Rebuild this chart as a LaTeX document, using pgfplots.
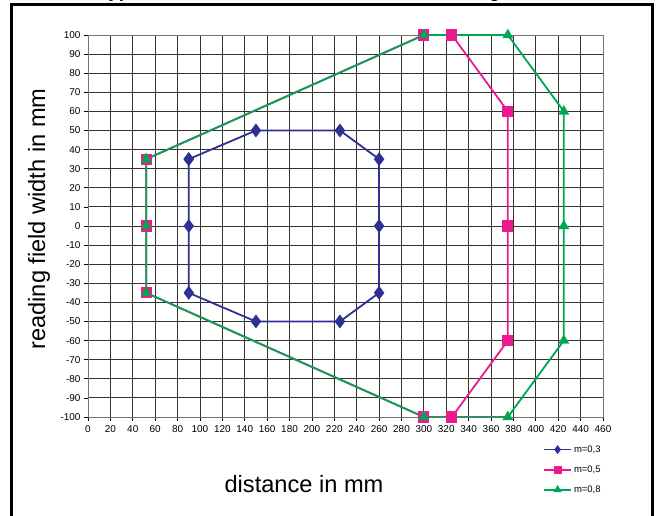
\documentclass[border=0pt]{standalone}
\usepackage{fontspec}
\setmainfont{Liberation Sans}
\usepackage{pgfplots}
\pgfplotsset{compat=1.18}
\definecolor{cblue}{RGB}{46,49,146}
\definecolor{cpink}{RGB}{236,26,140}
\definecolor{cgreen}{RGB}{0,166,81}
\begin{document}
\begin{tikzpicture}[x=1bp,y=1bp]
\useasboundingbox (0,0) rectangle (658,516);
\draw[line width=3bp] (11.5,-20) rectangle (652,511);
\node[anchor=base west, font=\bfseries\fontsize{19}{22}\selectfont, inner sep=0] at (98,518) {Typical field size vs. distance for the reading};
\begin{axis}[
  at={(88bp,99bp)}, anchor=south west, scale only axis,
  width=515bp, height=382bp,
  xmin=0, xmax=460, ymin=-100, ymax=100,
  xtick distance=20, ytick distance=10,
  xtick pos=bottom, ytick pos=left,
  grid=major, grid style={black!80, line width=0.8bp},
  axis line style={black!55, line width=0.9bp},
  tick align=outside, major tick length=4bp,
  tick style={black, line width=0.7bp},
  ticklabel style={font=\fontsize{10}{12}\selectfont},
  xticklabel style={yshift=-1bp},
  /pgf/number format/assume math mode=true,
  legend style={at={(0.8835,-0.069)}, anchor=north west, draw=none, fill=none,
    font=\fontsize{9.5}{11}\selectfont, row sep=8bp, inner sep=0pt, cells={anchor=west}},
  legend image code/.code={\draw[#1, line width=1.8bp, mark size=3bp, mark repeat=2, mark phase=2] plot coordinates {(0bp,0bp) (13.5bp,0bp) (27bp,0bp)};},
  every axis plot/.append style={line width=1.8bp},
]
\addplot[cblue, mark=diamond*, mark size=5.5bp, mark options={solid}] coordinates {
(90,35) (150,50) (225,50) (260,35) (260,0) (260,-35) (225,-50) (150,-50) (90,-35) (90,0) (90,35)};
\addlegendentry{m=0,3}
\addplot[cpink, mark=square*, mark size=4.7bp, mark options={solid}] coordinates {
(52,35) (52,0) (52,-35) (300,-100) (325,-100) (375,-60) (375,0) (375,60) (325,100) (300,100) (52,35)};
\addlegendentry{m=0,5}
\addplot[cgreen, mark=triangle*, mark size=4.5bp, mark options={solid}] coordinates {
(52,35) (52,0) (52,-35) (300,-100) (375,-100) (425,-60) (425,0) (425,60) (375,100) (300,100) (52,35)};
\addlegendentry{m=0,8}
\end{axis}
\node[font=\fontsize{23.7}{28}\selectfont] at (304,32) {distance in mm};
\node[font=\fontsize{23.7}{28}\selectfont, rotate=90] at (39,297) {reading field width in mm};
\end{tikzpicture}
\end{document}
